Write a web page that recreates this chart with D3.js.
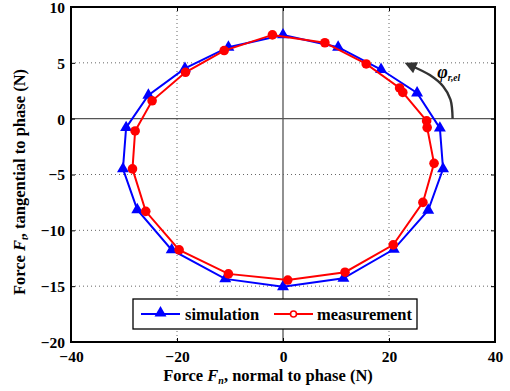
<!DOCTYPE html>
<html><head><meta charset="utf-8">
<script src="https://cdn.jsdelivr.net/npm/d3@7"></script>
<style>
html,body{margin:0;padding:0;background:#fff;}
text{font-family:"Liberation Serif","Times New Roman",serif;}
</style></head>
<body><svg id="c" width="510" height="391"></svg>
<script>
const xTicks = [-40, -20, 0, 20, 40];
const yTicks = [-20, -15, -10, -5, 0, 5, 10];
const simX = [0, 10.4, 18.5, 25.3, 29.6, 30.2, 27.4, 20.9, 11.4, 0, -10.9, -21.0, -27.5, -30.2, -29.6, -25.4, -18.5, -10.3];
const simY = [7.5, 6.4, 4.4, 2.3, -0.85, -4.5, -8.2, -11.7, -14.3, -15.05, -14.35, -11.75, -8.15, -4.5, -0.8, 2.1, 4.5, 6.4];
const measX = [-2.0, 7.9, 15.7, 22.0, 22.6, 27.1, 27.2, 28.5, 26.4, 20.8, 11.7, 0.9, -10.3, -19.6, -25.9, -28.4, -27.9, -24.7, -18.4, -11.1];
const measY = [7.5, 6.8, 4.9, 2.75, 2.35, -0.2, -0.8, -4.0, -7.5, -11.3, -13.75, -14.45, -13.9, -11.75, -8.3, -4.5, -1.1, 1.6, 4.15, 6.1];
const seriesNames = ["simulation", "measurement"];
const arrowX = [32.0, 31.6, 30.2, 27.7, 24.6];
const arrowY = [0.0, 1.7, 2.9, 3.9, 4.65];

const svg = d3.select("#c");
const L = 71, R = 495, T = 7, B = 342;
const x = d3.scaleLinear().domain([-40, 40]).range([L, R]);
const y = d3.scaleLinear().domain([-20, 10]).range([B, T]);

// grid
const g = svg.append("g");
xTicks.filter(v => v !== -40 && v !== 40).forEach(v => {
  g.append("line").attr("x1", x(v)).attr("x2", x(v)).attr("y1", T).attr("y2", B)
    .attr("stroke", v === 0 ? "#555" : "#666").attr("stroke-width", v === 0 ? 1.3 : 1)
    .attr("stroke-dasharray", v === 0 ? null : "1,3");
});
yTicks.filter(v => v !== -20 && v !== 10).forEach(v => {
  g.append("line").attr("y1", y(v)).attr("y2", y(v)).attr("x1", L).attr("x2", R)
    .attr("stroke", v === 0 ? "#555" : "#666").attr("stroke-width", v === 0 ? 1.3 : 1)
    .attr("stroke-dasharray", v === 0 ? null : "1,3");
});

// axes
const fontT = "15.5px";
const ax = svg.append("g").attr("transform", `translate(0,${B})`)
  .call(d3.axisBottom(x).tickValues(xTicks).tickSize(-4).tickPadding(9).tickFormat(d3.format("d")));
const ay = svg.append("g").attr("transform", `translate(${L},0)`)
  .call(d3.axisLeft(y).tickValues(yTicks).tickSize(-4).tickPadding(6).tickFormat(d3.format("d")));
svg.append("g").attr("transform", `translate(0,${T})`)
  .call(d3.axisTop(x).tickValues(xTicks).tickSize(-4).tickFormat(""));
svg.append("g").attr("transform", `translate(${R},0)`)
  .call(d3.axisRight(y).tickValues(yTicks).tickSize(-4).tickFormat(""));
svg.selectAll(".domain").remove();
svg.selectAll(".tick line").attr("stroke", "#000");
svg.selectAll(".tick text").attr("font-size", fontT).attr("font-weight", "bold")
  .attr("font-family", '"Liberation Serif","Times New Roman",serif').attr("fill", "#000");
ay.selectAll(".tick text").attr("dy", "0.35em");

// data
const simPts = simX.map((v, i) => [v, simY[i]]);
const measPts = measX.map((v, i) => [v, measY[i]]);
const line = d3.line().x(d => x(d[0])).y(d => y(d[1])).curve(d3.curveLinearClosed);
const tri = d3.symbol().type(d3.symbolTriangle).size(62);

svg.append("path").attr("d", line(simPts)).attr("fill", "none").attr("stroke", "#0000ff").attr("stroke-width", 2);
svg.selectAll(".sim").data(simPts).enter().append("path").attr("d", tri)
  .attr("transform", d => `translate(${x(d[0])},${y(d[1])})`).attr("fill", "#0000ff");
svg.append("path").attr("d", line(measPts)).attr("fill", "none").attr("stroke", "#ff0000").attr("stroke-width", 2);
svg.selectAll(".meas").data(measPts).enter().append("circle")
  .attr("cx", d => x(d[0])).attr("cy", d => y(d[1])).attr("r", 4.8).attr("fill", "#ff0000");

// annotation arrow
svg.append("defs").append("marker").attr("id", "ah").attr("viewBox", "0 0 10 10")
  .attr("refX", 2).attr("refY", 5).attr("markerWidth", 5.5).attr("markerHeight", 5)
  .attr("orient", "auto").attr("markerUnits", "strokeWidth")
  .append("path").attr("d", "M0,0 L10,5 L0,10 z").attr("fill", "#333");
const apts = arrowX.map((v, i) => [v, arrowY[i]]);
svg.append("path").attr("d", d3.line().x(d => x(d[0])).y(d => y(d[1])).curve(d3.curveCatmullRom)(apts))
  .attr("fill", "none").attr("stroke", "#333").attr("stroke-width", 2.4).attr("marker-end", "url(#ah)");
const lbl = svg.append("text").attr("x", x(29.1)).attr("y", y(3.6)).attr("font-size", "18px")
  .attr("font-style", "italic").attr("font-weight", "bold").attr("fill", "#000");
lbl.append("tspan").text("φ");
lbl.append("tspan").attr("font-size", "9.5px").attr("dy", 3).text("r,el");

// frame
svg.append("rect").attr("x", L).attr("y", T).attr("width", R - L).attr("height", B - T)
  .attr("fill", "none").attr("stroke", "#000").attr("stroke-width", 2);

// legend
const lg = svg.append("g");
lg.append("rect").attr("x", 133).attr("y", 299).attr("width", 284).attr("height", 30)
  .attr("fill", "#fff").attr("stroke", "#000").attr("stroke-width", 1.3);
lg.append("line").attr("x1", 141).attr("x2", 180).attr("y1", 314).attr("y2", 314).attr("stroke", "#0000ff").attr("stroke-width", 2);
lg.append("path").attr("d", tri).attr("transform", "translate(160.5,313)").attr("fill", "#0000ff");
lg.append("text").attr("x", 185).attr("y", 320).attr("font-size", "16.5px").attr("font-weight", "bold").text(seriesNames[0]);
lg.append("line").attr("x1", 274).attr("x2", 313).attr("y1", 314).attr("y2", 314).attr("stroke", "#ff0000").attr("stroke-width", 2);
lg.append("circle").attr("cx", 293.5).attr("cy", 314).attr("r", 3).attr("fill", "#fff").attr("stroke", "#ff0000").attr("stroke-width", 1.6);
lg.append("text").attr("x", 317).attr("y", 320).attr("font-size", "16.5px").attr("font-weight", "bold").text(seriesNames[1]);

// axis titles
const xt = svg.append("text").attr("x", 268).attr("y", 381).attr("text-anchor", "middle")
  .attr("font-size", "16.5px").attr("font-weight", "bold");
xt.append("tspan").text("Force ");
xt.append("tspan").attr("font-style", "italic").text("F");
xt.append("tspan").attr("font-size", "10px").attr("font-style", "italic").attr("dy", 3).text("n");
xt.append("tspan").attr("dy", -3).text(", normal to phase (N)");
const yt = svg.append("text").attr("transform", `translate(25,182) rotate(-90)`).attr("text-anchor", "middle")
  .attr("font-size", "16.5px").attr("font-weight", "bold");
yt.append("tspan").text("Force ");
yt.append("tspan").attr("font-style", "italic").text("F");
yt.append("tspan").attr("font-size", "10px").attr("font-style", "italic").attr("dy", 3).text("t");
yt.append("tspan").attr("dy", -3).text(", tangential to phase (N)");
</script></body></html>
